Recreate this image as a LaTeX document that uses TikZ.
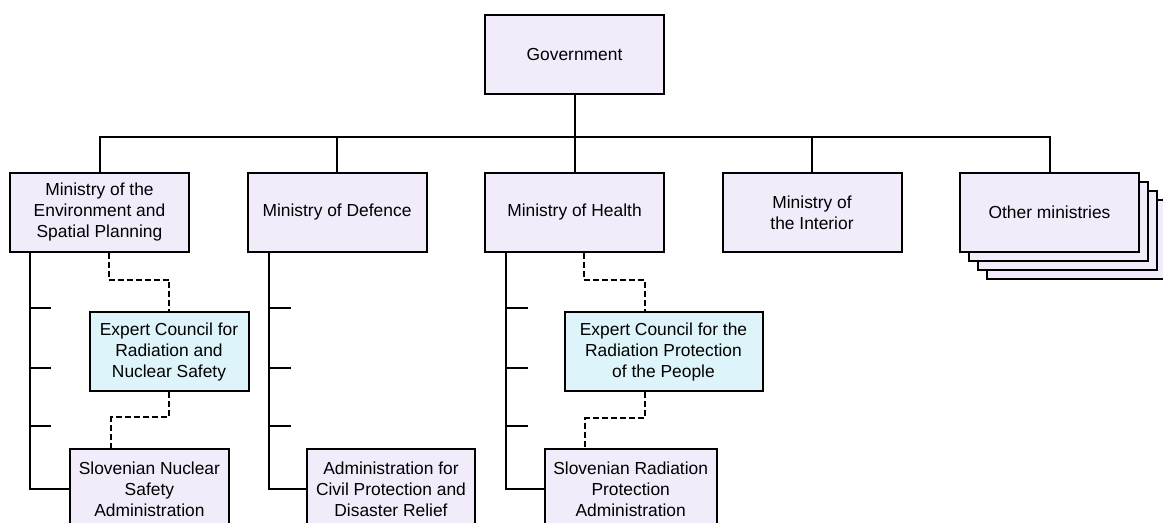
\documentclass[tikz,border=0pt]{standalone}
\usepackage{fontspec}
\setmainfont{Liberation Sans}
\usepackage{xcolor}
\usepackage{tikz}
\usetikzlibrary{positioning}
\definecolor{lavender}{RGB}{241,235,250}
\definecolor{paleblue}{RGB}{221,244,250}
\tikzset{link/.style = {line width=1pt}, dashlink/.style = {line width=1pt, dash pattern=on 3pt off 1.5pt}}

\begin{document}
\begin{tikzpicture}[x=0.5pt,y=-0.5pt,node distance=118.75pt,main node/.style={rectangle,draw,fill=lavender,line width=1pt,minimum width=89.5pt,minimum height=39.5pt,align=center,inner sep=2pt,font=\fontsize{8.7}{10.5}\selectfont},council node/.style={main node,fill=paleblue}]
                \useasboundingbox (0,0) rectangle (1163,523);
                \node[main node] (gov) at (574.5,54.5) {Government};
                \node[main node] (health) [below of=gov, node distance=79pt] {Ministry of Health};
                \node[main node] (def) [left of=health] {Ministry of Defence};
                \node[main node] (env) [left of=def] {Ministry of the\\Environment and\\Spatial Planning};
                \node[main node] (int) [right of=health] {Ministry of\\the Interior};
                \node[main node] (oth3) [right of=int, xshift=13.5pt, yshift=-13.5pt] {};
                \node[main node] (oth2) [right of=int, xshift=9pt, yshift=-9pt] {};
                \node[main node] (oth1) [right of=int, xshift=4.5pt, yshift=-4.5pt] {};
                \node[main node] (oth) [right of=int] {Other ministries};

                \node[council node, minimum width=79.5pt] (ecns) at (169,352) {Expert Council for\\Radiation and\\Nuclear Safety};
                \node[council node, minimum width=99pt] (ecrp) at (663.5,352) {Expert Council for the\\Radiation Protection\\of the People};
                \node[main node, minimum width=79.5pt] (snsa) at (149.4,489) {Slovenian Nuclear\\Safety\\Administration};
                \node[main node, minimum width=84pt] (acpdr) at (391,489) {Administration for\\Civil Protection and\\Disaster Relief};
                \node[main node, minimum width=86pt] (srpa) at (630.7,489) {Slovenian Radiation\\Protection\\Administration};

                \coordinate (bus) at (574.5,137);
                \path[link] (gov) edge (health);
                \draw[link] (env) |- (bus) -| (oth);
                \draw[link] (def) |- (bus);
                \draw[link] (int) |- (bus);

                \draw[link] ([xshift=10.5pt]env.south west) |- (snsa);
                \draw[link] ([xshift=11pt]def.south west) |- (acpdr);
                \draw[link] ([xshift=11pt]health.south west) |- (srpa);
                \foreach \x in {30,270,507}
                    \foreach \y in {308,368,426}
                        \draw[link] (\x,\y) -- ++(21,0);

                \draw[dashlink] ([xshift=4.5pt]env.south) -- ++(0,27) -| (ecns);
                \draw[dashlink] (ecns.south) -- ++(0,25) -| ([xshift=-19pt]snsa.north);
                \draw[dashlink] ([xshift=4.5pt]health.south) -- ++(0,27) -| ([xshift=-9.5pt]ecrp.north);
                \draw[dashlink] ([xshift=-9.5pt]ecrp.south) -- ++(0,26) -| ([xshift=-23pt]srpa.north);
            \end{tikzpicture}
\end{document}
